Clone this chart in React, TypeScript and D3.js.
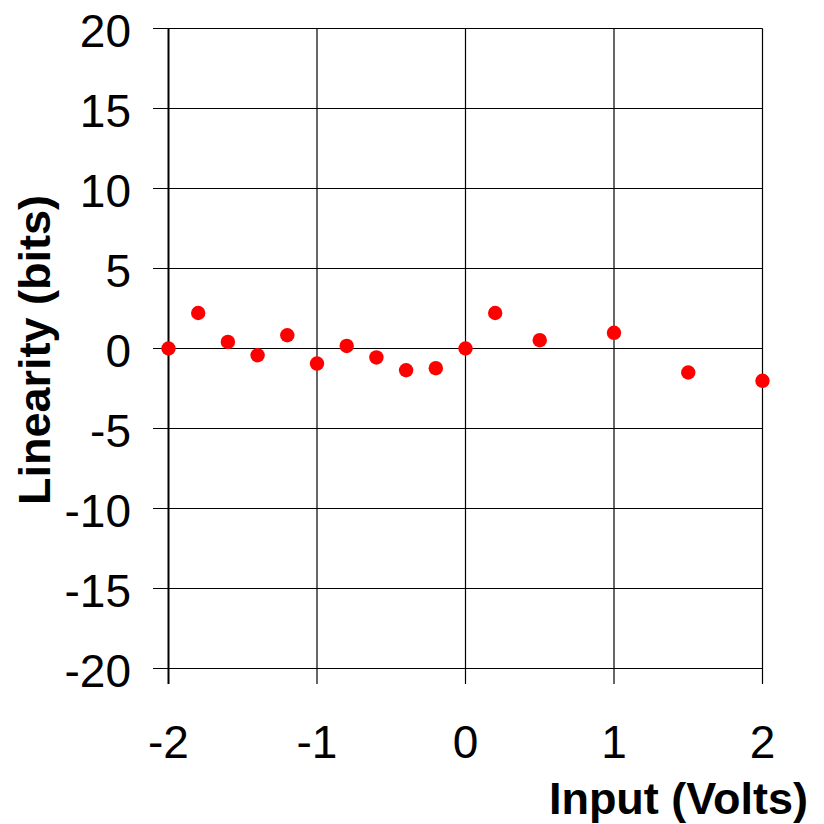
import React from "react";
import * as d3 from "d3";

const inputVolts = [-2, -1.8, -1.6, -1.4, -1.2, -1.0, -0.8, -0.6, -0.4, -0.2, 0, 0.2, 0.5, 1, 1.5, 2];
const linearityBits = [0, 2.22, 0.41, -0.42, 0.83, -0.94, 0.16, -0.56, -1.36, -1.23, 0, 2.22, 0.52, 0.98, -1.5, -2.02];
const xTicks = [-2, -1, 0, 1, 2];
const yTicks = [20, 15, 10, 5, 0, -5, -10, -15, -20];

export default function App() {
  const W = 824, H = 824;
  const x = d3.scaleLinear().domain([-2, 2]).range([168.5, 762.5]);
  const y = d3.scaleLinear().domain([-20, 20]).range([668.5, 28.5]);
  const font = "Arial, 'Liberation Sans', sans-serif";
  return (
    <svg width={W} height={H} style={{ position: "absolute", left: 0, top: 0, background: "#fff" }}>
      <rect x={0} y={0} width={W} height={H} fill="#fff" />
      {yTicks.map((t) => (
        <g key={"y" + t}>
          <line x1={153} x2={x(2)} y1={y(t)} y2={y(t)} stroke="#000" strokeWidth={1.2} />
          <text x={131} y={y(t) + 2} dy="0.36em" textAnchor="end" fontFamily={font} fontSize={46}>{t}</text>
        </g>
      ))}
      {xTicks.map((t) => (
        <g key={"x" + t}>
          <line x1={x(t)} x2={x(t)} y1={y(20)} y2={684} stroke="#000" strokeWidth={t === -2 ? 2 : 1.2} />
          <text x={x(t)} y={758} textAnchor="middle" fontFamily={font} fontSize={46}>{t}</text>
        </g>
      ))}
      {inputVolts.map((v, i) => (
        <circle key={i} cx={x(v)} cy={y(linearityBits[i])} r={7.2} fill="#ff0000" />
      ))}
      <text x={808} y={814} textAnchor="end" fontFamily={font} fontSize={45} fontWeight="bold">Input (Volts)</text>
      <text transform={`translate(50,${350}) rotate(-90)`} textAnchor="middle" fontFamily={font} fontSize={45} fontWeight="bold">Linearity (bits)</text>
    </svg>
  );
}
